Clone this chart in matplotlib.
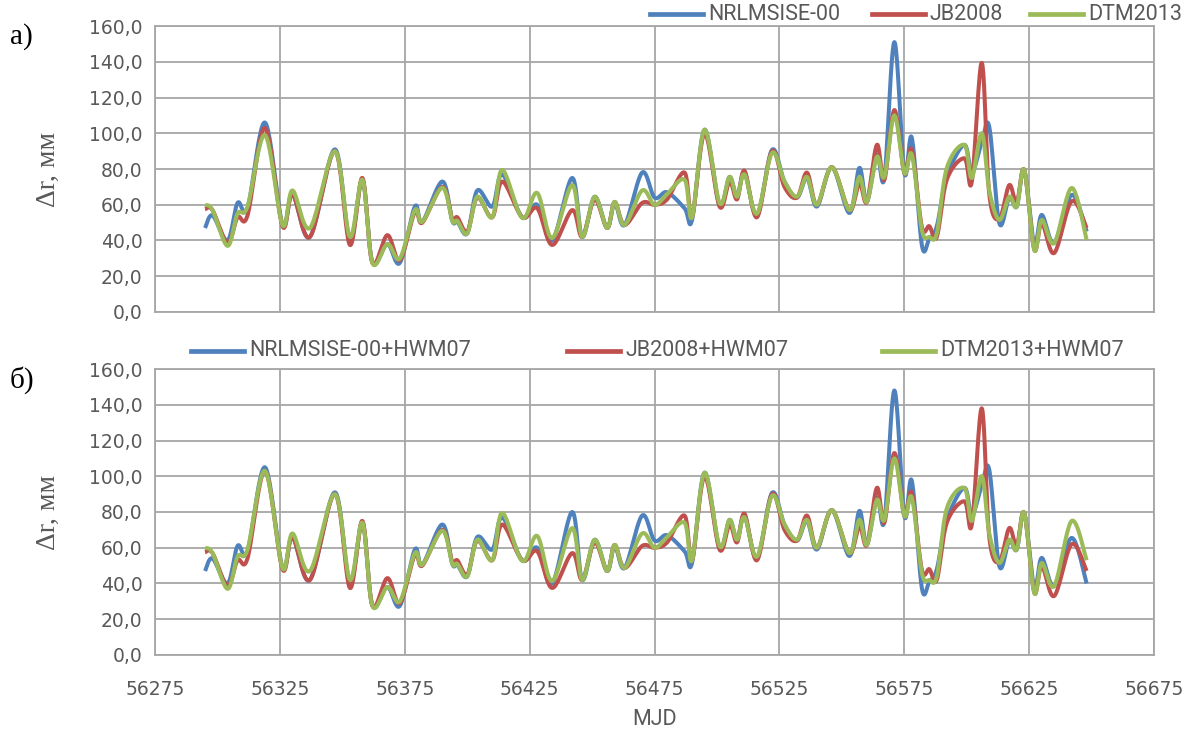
import numpy as np
import matplotlib.pyplot as plt
from matplotlib.lines import Line2D
from matplotlib.ticker import MultipleLocator, FuncFormatter

# Orbit difference per day for each atmosphere model (mm)
mjd = [56295, 56298, 56304, 56308, 56312, 56319, 56326, 56330, 56337, 56347,
       56353, 56358, 56362, 56368, 56373, 56379, 56382, 56390, 56394, 56396,
       56400, 56404, 56410, 56414, 56422, 56428, 56434, 56442, 56446, 56451,
       56456, 56459, 56463, 56470, 56475, 56480, 56487, 56490, 56495, 56501,
       56505, 56508, 56511, 56516, 56522, 56527, 56532, 56536, 56540, 56546,
       56553, 56557, 56560, 56564, 56567, 56571, 56575, 56578, 56582, 56585,
       56588, 56592, 56599, 56602, 56606, 56609, 56613, 56617, 56620, 56623,
       56627, 56630, 56635, 56642, 56648]

nrl_a = [47, 54, 40, 61, 58, 106, 49, 66, 42, 91,
         40, 74, 28, 38, 27.5, 59, 50.5, 73, 51, 50.5,
         44, 68, 59, 77, 53, 60, 40, 75, 42, 64.5,
         47, 61, 48.7, 78, 64, 67, 58, 51.5, 102, 60,
         75.6, 64.5, 78, 54, 90.7, 73, 64, 75, 59, 81,
         55.4, 80.6, 61.6, 88, 75, 151, 77.8, 97.4, 37.5, 41,
         48, 75.6, 93.5, 78, 95, 103.6, 49.8, 64, 59, 79.5,
         38, 54.3, 38.6, 65.5, 45]
jb_a = [57.5, 57, 38.6, 53, 54, 103, 48, 66, 42, 90,
        37.5, 75, 27.5, 43, 29, 56, 50, 70, 52, 53,
        45, 64, 53, 73, 53, 58, 37.5, 57, 42, 63,
        47, 61.6, 48.7, 61, 60, 63, 78, 53, 100, 59,
        73, 63, 79, 53, 90, 70, 64, 78, 60, 81,
        57, 72, 61.6, 93.5, 74, 113, 77.8, 90.7, 47.6, 48,
        42, 74, 86, 72.8, 139.4, 66, 52, 71, 61, 79.5,
        35, 49.8, 33, 62, 47]
dtm_a = [60, 57, 37, 55, 59, 99, 48.7, 68, 47, 90,
         42, 74, 27.5, 38, 30, 57, 50.5, 69.5, 51, 51,
         44, 64.5, 53, 79.5, 52.6, 66.6, 41.4, 71, 42, 64.5,
         47, 61.6, 48.7, 68, 60, 66, 74, 53, 102, 61,
         75.6, 64.5, 77, 55, 89, 73, 64.5, 75.6, 60, 81,
         57, 75.6, 61.6, 86.8, 75.6, 110, 77.8, 88, 46, 42,
         44, 80.6, 93.5, 75, 100, 68, 51.5, 64.5, 59, 79.5,
         34.7, 51.5, 38.6, 69.4, 40.3]

# same models with the HWM07 wind model added
nrl_b = [47, 54, 40, 61, 58, 105, 49, 66, 42, 91,
         40, 74, 28, 38, 27.5, 59, 50.5, 73, 51, 50.5,
         44, 66, 59, 77, 53, 60, 40, 80, 42, 64.5,
         47, 61, 48.7, 78, 64, 67, 58, 51.5, 102, 60,
         75.6, 64.5, 78, 54, 90.7, 73, 64, 75, 59, 81,
         55.4, 80.6, 61.6, 88, 75, 148, 77.8, 97.4, 37.5, 41,
         48, 75.6, 93.5, 78, 95, 103.6, 49.8, 64, 59, 79.5,
         38, 54.3, 38.6, 65.5, 40]
jb_b = [57.5, 57, 38.6, 53, 54, 103, 48, 66, 42, 90,
        37.5, 75, 27.5, 43, 29, 56, 50, 70, 52, 53,
        45, 64, 53, 73, 53, 58, 37.5, 57, 42, 63,
        47, 61.6, 48.7, 61, 60, 63, 78, 53, 100, 59,
        73, 63, 79, 53, 90, 70, 64, 78, 60, 81,
        57, 72, 61.6, 93.5, 74, 113, 77.8, 90.7, 47.6, 48,
        42, 74, 86, 72.8, 138, 66, 52, 71, 61, 79.5,
        35, 49.8, 33, 62, 47]
dtm_b = [60, 57, 37, 55, 59, 103, 48.7, 68, 47, 90,
         42, 74, 27.5, 38, 30, 57, 50.5, 69.5, 51, 51,
         44, 64.5, 53, 79.5, 52.6, 66.6, 41.4, 71, 42, 64.5,
         47, 61.6, 48.7, 68, 60, 66, 74, 53, 102, 61,
         75.6, 64.5, 77, 55, 89, 73, 64.5, 75.6, 60, 81,
         57, 75.6, 61.6, 86.8, 75.6, 110, 77.8, 88, 46, 42,
         44, 82, 93.5, 75, 100, 68, 51.5, 64.5, 59, 79.5,
         34.7, 51.5, 38.6, 75, 53]

names_a = ["NRLMSISE-00", "JB2008", "DTM2013"]
names_b = ["NRLMSISE-00+HWM07", "JB2008+HWM07", "DTM2013+HWM07"]
colors = ["#4F81BD", "#C0504D", "#9BBB59"]

GRID = "#A6A6A6"
TXT = "#595959"
SANS = ["Roboto", "DejaVu Sans"]


def smooth(x, y, n=24):
    # Bezier curve through every point, like a spreadsheet "smoothed line"
    x = np.asarray(x, float)
    y = np.asarray(y, float)
    px = np.concatenate([[x[0]], x, [x[-1]]])
    py = np.concatenate([[y[0]], y, [y[-1]]])
    t = np.linspace(0, 1, n)
    xs, ys = [], []
    for i in range(len(x) - 1):
        j = i + 1
        x0, y0, x3, y3 = px[j], py[j], px[j + 1], py[j + 1]
        x1 = x0 + (px[j + 1] - px[j - 1]) / 6
        y1 = y0 + (py[j + 1] - py[j - 1]) / 6
        x2 = x3 - (px[j + 2] - px[j]) / 6
        y2 = y3 - (py[j + 2] - py[j]) / 6
        a, b, c, d = (1 - t) ** 3, 3 * t * (1 - t) ** 2, 3 * t ** 2 * (1 - t), t ** 3
        xs.append(a * x0 + b * x1 + c * x2 + d * x3)
        ys.append(a * y0 + b * y1 + c * y2 + d * y3)
    return np.concatenate(xs), np.concatenate(ys)


fig = plt.figure(figsize=(11.93, 7.31), dpi=100)
ax_a = fig.add_axes([0.130, 0.5732, 0.8374, 0.3912])
ax_b = fig.add_axes([0.130, 0.1040, 0.8374, 0.3912])

comma = FuncFormatter(lambda v, p: f"{v:.1f}".replace(".", ","))

for ax, series in ((ax_a, (nrl_a, jb_a, dtm_a)), (ax_b, (nrl_b, jb_b, dtm_b))):
    for vals, col in zip(series, colors):
        sx, sy = smooth(mjd, vals)
        ax.plot(sx, sy, color=col, lw=2.9, solid_capstyle="butt")
    ax.set_xlim(56275, 56675)
    ax.set_ylim(0, 160)
    ax.set_xticks(np.arange(56275, 56676, 50))
    ax.yaxis.set_major_locator(MultipleLocator(20))
    ax.yaxis.set_major_formatter(comma)
    ax.grid(True, color=GRID, lw=1.3)
    ax.set_axisbelow(True)
    for s in ax.spines.values():
        s.set_color(GRID)
        s.set_linewidth(1.3)
    ax.tick_params(length=0, labelsize=13.5, labelcolor=TXT)
    ax.tick_params(axis="y", pad=9)
    ax.tick_params(axis="x", pad=18)
    ax.set_ylabel("Δr, мм", family="Liberation Serif", fontsize=20,
                  color=TXT, labelpad=20)

ax_a.tick_params(labelbottom=False)
ax_b.set_xlabel("MJD", family=SANS, fontsize=15.5, color=TXT)
ax_b.xaxis.set_label_coords(0.5, -0.19)

fig.text(0.008, 0.94, "а)", family="Liberation Serif", fontsize=21)
fig.text(0.008, 0.47, "б)", family="Liberation Serif", fontsize=21)


def legend_row(y, starts, names):
    # one line sample + name per model, placed in figure pixels
    for x0, name, col in zip(starts, names, colors):
        fig.add_artist(Line2D([x0 / 1193, (x0 + 53) / 1193], [y, y], color=col,
                              lw=3.4, transform=fig.transFigure))
        fig.text((x0 + 58) / 1193, y, name, va="center", color=TXT,
                 fontsize=15.5, family=SANS)


legend_row(1 - 14 / 731, [650, 872, 1030], names_a)
legend_row(1 - 351 / 731, [191, 567, 882], names_b)

fig.savefig("out.png", dpi=100)
